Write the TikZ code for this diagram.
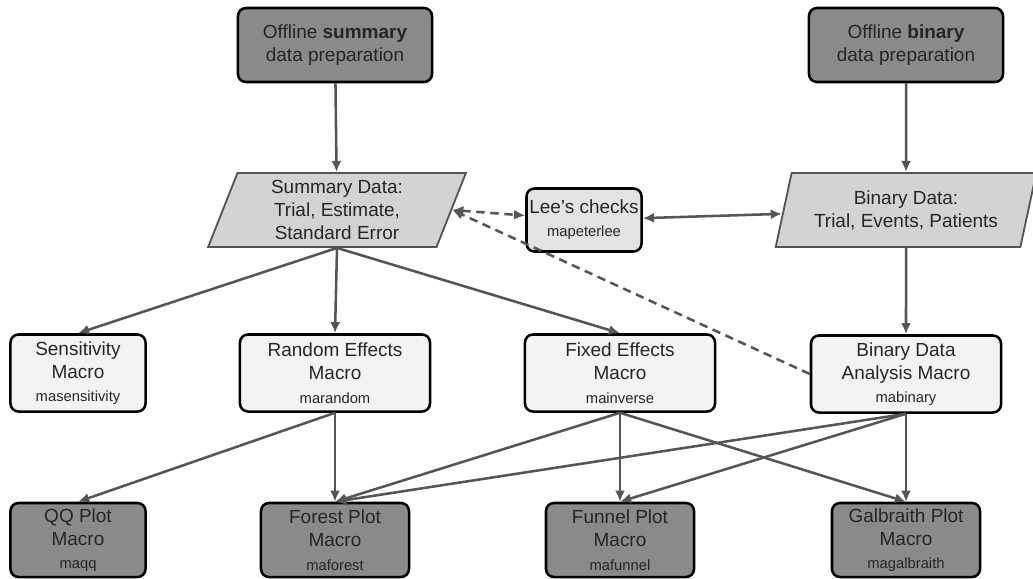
\documentclass[tikz,border=0pt]{standalone}
\usepackage{fontspec}
\setmainfont{Liberation Sans}
\usetikzlibrary{shapes.geometric,arrows.meta}
\definecolor{lineColor}{RGB}{85,85,85}
\definecolor{darkFill}{RGB}{138,138,138}
\definecolor{dataFill}{RGB}{211,211,211}
\definecolor{macroFill}{RGB}{243,243,243}
\definecolor{checkFill}{RGB}{228,228,228}
\newcommand{\mainFont}{\fontsize{13.5}{16.5}\selectfont}
\newcommand{\macName}[1]{{\fontsize{10.5}{12}\selectfont #1}}
\tikzstyle{boxBase} = [draw=black, line width=1.8pt, rounded corners=.2cm, align=center, inner sep=0pt, text=black!85, font=\mainFont]
\tikzstyle{prepBox} = [boxBase, fill=darkFill, minimum width=4.85cm, minimum height=1.85cm]
\tikzstyle{plotBox} = [boxBase, fill=darkFill, minimum width=3.7cm, minimum height=1.85cm]
\tikzstyle{macroBox} = [boxBase, fill=macroFill, minimum width=4.75cm, minimum height=1.925cm]
\tikzstyle{checkBox} = [boxBase, fill=checkFill, minimum width=2.875cm, minimum height=1.575cm]
\tikzstyle{dataBox} = [trapezium, trapezium stretches=true, trapezium left angle=72, trapezium right angle=108, draw=lineColor, line width=1.3pt, fill=dataFill, minimum width=6.45cm, minimum height=1.85cm, inner sep=0pt, align=center, text=black!85, font=\mainFont]
\tikzstyle{flow} = [draw=lineColor, line width=1.8pt, ->]
\tikzstyle{twoWay} = [flow, <->]
\tikzstyle{dashedFlow} = [flow, dash pattern=on 6pt off 4pt]

\begin{document}
\begin{tikzpicture}[x=0.025cm, y=-0.025cm, >={Latex[length=2.8mm,width=2.5mm]}]
  \useasboundingbox (0,0) rectangle (1033,579);

  \node[prepBox] (sumPrep) at (335,45) {Offline \textbf{summary}\\data preparation};
  \node[prepBox] (binPrep) at (906,45) {Offline \textbf{binary}\\data preparation};

  \node[dataBox] (sumData) at (337,210) {Summary Data:\\Trial, Estimate,\\Standard Error};
  \node[dataBox, minimum width=6.525cm] (binData) at (906,210) {Binary Data:\\Trial, Events, Patients};
  \node[checkBox] (lee) at (584,220) {Lee's checks\\\macName{mapeterlee}};

  \node[macroBox, minimum width=3.375cm] (sensitivity) at (78,373) {Sensitivity\\Macro\\\macName{masensitivity}};
  \node[macroBox] (random) at (335,373) {Random Effects\\Macro\\\macName{marandom}};
  \node[macroBox] (fixed) at (620,373) {Fixed Effects\\Macro\\\macName{mainverse}};
  \node[macroBox] (binAnalysis) at (906,374) {Binary Data\\Analysis Macro\\\macName{mabinary}};

  \node[plotBox, minimum width=3.375cm] (qq) at (78,540) {QQ Plot\\Macro\\\macName{maqq}};
  \node[plotBox] (forest) at (335,540) {Forest Plot\\Macro\\\macName{maforest}};
  \node[plotBox] (funnel) at (620,540) {Funnel Plot\\Macro\\\macName{mafunnel}};
  \node[plotBox] (galbraith) at (906,540) {Galbraith Plot\\Macro\\\macName{magalbraith}};

  \draw[flow] (sumPrep) -- (sumData);
  \draw[flow] (binPrep) -- (binData);
  \draw[twoWay] (lee) -- (binData);
  \draw[dashedFlow, <->] (sumData.east) -- (lee);
  \draw[dashedFlow] (binAnalysis.west) -- (sumData.east);
  \draw[flow] (binData) -- (binAnalysis);

  \foreach \target in {sensitivity, random, fixed} {
    \draw[flow] (sumData.south) -- (\target.north);
  }
  \foreach \target in {qq, forest} {
    \draw[flow] (random.south) -- (\target.north);
  }
  \foreach \source in {fixed, binAnalysis} {
    \foreach \target in {forest, funnel, galbraith} {
      \draw[flow] (\source.south) -- (\target.north);
    }
  }
\end{tikzpicture}
\end{document}
